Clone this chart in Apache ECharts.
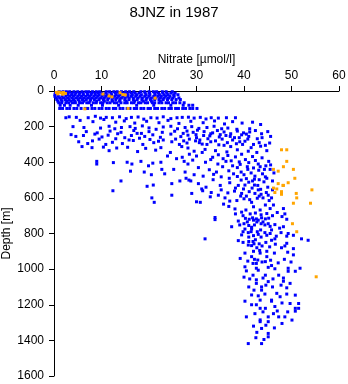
<!DOCTYPE html>
<html>
<head>
<meta charset="utf-8">
<script src="https://cdn.jsdelivr.net/npm/echarts@6/dist/echarts.min.js"></script>
<style>html,body{margin:0;padding:0;background:#fff}#c{width:348px;height:384px}</style>
</head>
<body>
<div id="c"></div>
<script>
// ---- data ----
const titleText = '8JNZ in 1987';
const xName = 'Nitrate [\u00b5mol/l]';
const yName = 'Depth [m]';

// dense near-surface sampling rows (depth in m) and their nitrate values
const surfaceRowDepth = [4, 12, 21, 30, 39, 48, 57, 66, 80, 98];
const surfaceRowNitrate = [
  [1.1,1.9,2.6,3.3,4.2,5.0,5.9,6.7,7.3,8.1,8.9,9.6,11.0,11.7,12.6,13.3,14.2,15.1,15.9,16.8,18.3,19.1,20.0,20.9,21.6,22.8,23.6,24.9],
  [0.3,3.0,3.8,4.6,5.4,6.1,7.0,7.9,8.6,9.3,10.1,10.9,12.0,12.9,13.7,14.6,15.4,16.3,17.1,17.9,19.2,20.1,21.2,22.0,22.9,23.8,24.6,25.5],
  [0.2,2.9,3.7,4.4,5.3,6.2,7.1,7.8,8.7,9.5,10.4,11.2,12.1,13.1,13.9,14.8,15.6,16.5,17.4,18.4,19.4,20.2,21.3,22.2,23.2,24.0,25.2,26.1],
  [0.2,0.9,1.7,2.5,3.3,4.1,5.0,5.8,6.7,7.5,8.4,9.2,10.1,10.9,11.9,12.8,13.6,14.5,15.5,16.3,17.2,18.1,19.1,20.0,21.0,21.9,22.6,23.5,24.4,25.3],
  [0.4,1.2,2.0,2.9,3.8,4.7,5.5,6.3,7.2,8.0,8.9,9.8,10.6,11.5,12.4,13.3,14.2,15.0,15.8,16.7,17.7,18.6,19.6,20.5,21.4,22.4,23.2,24.1,25.0,26.3],
  [0.6,1.5,2.4,3.2,4.1,5.1,6.0,6.8,7.7,8.5,9.5,10.4,11.3,12.2,13.0,13.9,14.9,15.8,16.7,17.5,18.5,19.4,20.3,21.2,22.1,23.0,23.9,24.8,25.7,26.6],
  [0.8,1.7,2.7,3.6,4.4,5.3,6.3,7.6,9.0,10.6,12.3,13.8,15.2,17.0,18.8,20.5,22.4],
  [1.0,1.6,2.5,3.1,3.9,4.5,5.4,6.0,6.9,7.4,8.3,8.9,9.8,10.3,11.2,11.8,12.7,13.2,14.1,14.9,15.4,16.3,16.8,17.8,18.3,19.2,19.7,20.7,21.2,22.1,22.7,23.6,24.1,25.0,25.6,26.5,27.4],
  [1.3,2.2,3.4,5.1,7.9,10.2,13.6,17.4,21.0,24.6,27.2,28.4,29.2],
  [1.2,1.8,2.7,3.3,4.2,4.8,5.7,6.6,7.1,8.0,8.6,9.5,10.1,11.0,11.6,12.5,13.0,13.9,14.5,15.4,16.0,16.9,17.4,18.3,18.9,19.8,20.3,21.2,21.8,22.7,23.3,24.2,24.7,25.6,26.2,27.1,27.7,28.6,29.2,30.1]
];

// scattered blue samples [nitrate, depth] by depth band
const blueUpper = [
  [2.5,150],[3.2,145],[4.7,148],[7.2,150],[8.7,142],[9.8,152],[11.0,148],[12.3,150],[13.8,145],[15.2,155],[16.3,148],[17.7,146],[18.9,158],[20.4,150],[21.7,152],[23.0,145],[24.6,155],[25.9,150],[27.0,148],[28.3,147],[29.5,152],[30.8,148],[32.0,157],[33.1,150],[34.6,152],[36.3,150],[38.2,150],
  [4.0,200],[6.3,205],[9.8,208],[11.6,198],[12.8,212],[14.2,205],[16.0,200],[17.1,210],[18.6,196],[20.0,207],[21.5,215],[23.0,202],[24.6,198],[26.0,212],[27.6,205],[29.0,200],[30.5,210],[32.2,205],[33.7,198],[35.3,212],[36.6,208],[38.5,215],[41.2,212],
  [3.6,245],[4.6,255],[6.2,250],[8.6,242],[10.1,258],[11.4,248],[13.4,240],[14.9,262],[16.3,250],[17.5,238],[19.1,255],[20.8,246],[22.4,260],[24.6,242],[26.7,256],[28.2,248],[30.0,262],[31.5,250],[33.0,240],[34.8,258],[36.2,250],[38.0,262],[39.5,246],[41.0,255],[42.8,268],
  [5.2,285],[7.1,295],[8.1,280],[10.9,300],[12.3,288],[14.4,295],[16.7,278],[18.7,300],[21.0,290],[23.0,275],[24.8,285],[26.4,300],[28.0,292],[29.8,280],[31.2,298],[33.0,285],[34.7,302],[36.5,290],[38.4,296],[40.2,282],[42.0,300],
  [5.9,312],[8.0,318],[10.4,315],[13.2,320],[15.5,316],[19.3,322],[22.5,318],[26.9,312],[28.2,320],
  [28.0,225],[29.3,232],[30.2,220],[31.6,228],[33.4,235],[34.4,222],[35.8,230],[37.2,240],[38.6,225],[39.9,235],[41.2,230],[42.4,222],[43.7,240],[45.0,228],
  [28.5,270],[30.7,275],[32.4,268],[34.0,280],[35.4,270],[37.6,275],[39.1,285],[40.8,270],[43.2,290],[44.5,305]
];
const blueUpper2 = [
  [5.5,165],[8.2,172],[10.5,160],[13.0,175],[14.8,168],[17.0,180],[19.5,170],[22.1,178],[24.0,165],[26.3,182],[28.8,170],[31.4,178],[33.8,168],[35.9,185],[37.6,172],[39.6,180],[41.8,175],[43.5,188],
  [6.8,228],[9.1,235],[11.8,225],[14.1,232],[16.8,222],[18.4,238],[20.0,228],[22.8,232],[25.4,226],[27.2,238],[29.9,245],[32.8,252],[35.0,245],[37.1,255],[39.0,262],[40.5,242],[43.8,262],[45.6,255],
  [9.5,270],[13.0,268],[15.8,275],[18.0,265],[20.2,272],[22.0,282],[25.6,270],[27.3,280],[30.6,290],[32.2,300],[35.8,305],[37.2,312],[39.7,300],[41.5,318],[43.5,310],[45.4,292],
  [11.6,335],[17.6,340],[21.4,332],[24.5,345],[29.5,338],[31.8,328],[34.0,335],[36.4,342],[38.6,330],[40.9,338],[42.7,345],[44.8,335]
];
const blueMid = [
  [9.0,395],[9.0,410],[12.5,402],[15.4,400],[16.4,410],[18.3,395],[19.9,420],[20.8,405],[22.5,400],[27.4,395],[28.2,410],
  [16.1,450],[19.0,455],[20.5,470],[22.7,440],[23.3,465],
  [12.4,560],[14.1,505],[19.6,535],[20.9,528],[24.8,520],[26.5,505],[27.8,490],[28.4,500],
  [20.6,600],[21.1,625],[24.8,585],[30.8,625],
  [28.5,355],[30.0,365],[31.2,345],[33.4,372],[34.6,358],[35.6,380],[36.6,362],[37.3,392],[38.2,370],[39.0,398],[39.5,355],[40.3,385],[41.0,402],[41.8,368],[42.4,390],[43.0,410],[43.8,375],[44.6,420],[45.2,395],
  [30.4,430],[32.7,442],[34.2,455],[35.5,425],[36.8,448],[37.8,465],[38.6,430],[39.4,455],[40.0,470],[40.8,440],[41.5,460],[42.3,478],[43.1,445],[43.9,465],[44.5,482],[45.5,440],[46.3,460],
  [28.8,505],[30.4,520],[32.0,540],[33.5,498],[35.0,530],[37.0,515],[38.2,545],[39.4,500],[40.2,528],[41.0,512],[41.7,545],[42.2,495],[42.9,530],[43.5,552],[44.2,510],[45.0,540]
];
const blueMid2 = [
  [23.9,365],[25.8,380],[27.0,372],[29.2,388],[31.9,400],[33.0,385],[34.5,410],[36.2,395],[37.6,420],[39.2,412],[40.7,425],[42.0,432],[43.4,425],[44.3,440],[45.6,415],
  [25.2,440],[27.6,455],[29.5,470],[31.4,478],[33.6,468],[35.2,482],[36.9,490],[38.6,480],[40.5,492],[41.8,505],[43.2,498],[44.8,490],[46.0,505],
  [31.3,560],[33.1,570],[35.2,555],[36.6,572],[38.0,562],[39.3,590],[40.0,605],[41.1,565],[42.3,575],[43.2,590],[44.0,600],[44.7,570],[45.3,615],[46.0,555],[38.5,615],[35.7,635],[29.0,575]
];
const blueDeep = [
  [31.1,550],[34.6,585],[30.0,622],[32.9,594],[36.0,600],[37.0,618],[38.8,530],[39.9,550],[39.5,575],[40.5,590],[41.2,610],[41.6,625],
  [42.2,528],[43.0,555],[43.6,580],[42.8,602],[45.1,585],[45.8,600],[44.5,640],[45.5,660],[46.2,640],[36.8,648],[38.1,662],[42.0,650],[43.4,668],
  [48.0,705],[39.8,700],[42.0,725],[42.7,735],[33.9,710],[33.9,722],[37.4,762],[39.8,790],[41.6,765],[41.6,775],[39.5,808],
  [40.9,795],[42.0,812],[43.0,805],[43.6,820],[42.4,835],[45.8,780],[48.3,762],[46.5,830],[49.0,815],[49.3,800],[50.4,810],[52.1,830],[53.5,838],
  [31.8,830],[38.8,840],[41.6,868],[42.7,880],[43.3,895],[45.8,838],[49.0,855],[50.4,885],[40.9,865],[40.2,910],[43.4,910],
  [40.3,715],[41.1,720],[41.8,712],[42.6,718],[43.7,712],[44.5,718],[45.2,714],[40.7,735],[42.2,752],[43.6,745],[44.4,752],[45.1,745],[39.1,752],[41.5,790],[43.5,780],[44.4,795],[41.9,845],[43.2,858],[48.3,660],[48.6,690],[49.0,720]
];
const blueDeep2 = [
  [38.2,690],[39.5,680],[40.4,668],[41.3,690],[42.4,685],[43.6,695],[44.8,688],[46.0,700],[47.0,682],
  [38.8,730],[40.0,745],[41.0,755],[43.0,725],[44.0,735],[45.5,760],[46.5,750],[47.5,770],
  [40.2,775],[41.0,820],[42.8,790],[44.8,810],[45.5,800],[46.8,815],[47.8,795],
  [39.8,850],[41.0,845],[42.1,858],[43.8,870],[44.6,850],[45.4,875],[46.6,860],[47.9,880],[48.6,870],[42.0,900],[44.8,900],[46.4,910],[49.2,905]
];
const blueBottom = [
  [39.2,940],[41.6,930],[44.8,930],[44.5,958],[42.6,968],[40.2,987],[40.5,1010],[41.9,1034],[42.6,995],[43.0,1006],[44.5,1034],[45.1,990],[45.8,980],[46.5,998],[47.3,1034],[48.3,1050],[48.3,1068],
  [49.3,995],[49.3,1012],[50.4,920],[50.8,1012],[51.8,995],[42.6,1060],[42.6,1080],[43.7,1100],[43.7,1118],[45.1,1070],[46.9,1136],[45.8,1174],[45.8,1180],[43.4,1174],[42.1,1118],
  [40.2,1180],[41.6,1200],[42.6,1200],[43.4,1220],[44.5,1220],[46.2,1250],[45.1,1268],[47.3,1268],[48.6,1268],[40.5,1268],[43.4,1285],[43.4,1295],[45.1,1295],[48.0,1305],[50.1,1286],
  [49.7,1193],[50.8,1220],[50.8,1236],[51.5,1220],[51.5,1193],[50.8,1146],[49.7,1080],[43.7,1333],[45.1,1361],[45.1,1380],[40.9,1418],[43.7,1418],[41.9,968],[42.9,949]
];
const blueBottom2 = [
  [40.8,955],[42.2,945],[43.8,960],[45.6,950],[47.2,965],[48.5,945],[49.9,960],
  [40.0,1045],[41.2,1055],[44.0,1050],[46.1,1055],[47.8,1090],[49.0,1105],[46.0,1100],[44.6,1090],[41.0,1100],
  [41.6,1145],[43.0,1150],[44.4,1140],[47.6,1155],[49.0,1140],[48.0,1190],[46.5,1210],[44.0,1240],[42.3,1250],[47.0,1235],[49.2,1240],
  [42.0,1320],[44.6,1315],[46.4,1330],[42.7,1355],[44.2,1395],[42.5,1385]
];
const orangeSamples = [
  [0.5,8],[1.0,6],[1.5,10],[2.0,8],[0.8,16],[1.8,18],[2.4,14],[10.3,17],[11.6,28],[12.2,33],[13.9,10],[14.5,20],[15.0,22],[21.3,40],[6.5,100],[15.6,98],
  [47.9,330],[49.0,330],[49.0,395],[48.3,425],[46.2,440],[47.2,450],[50.4,440],[50.7,490],[47.2,520],[48.3,530],[49.3,515],[46.9,550],[47.9,565],[54.3,555],
  [46.5,570],[51.0,575],[51.1,600],[47.9,580],[50.4,630],[54.0,630],[50.2,745],[51.1,790],[55.2,1043],[46.2,545],[48.2,530]
];

// ---- build ----
const surfaceBlue = [];
surfaceRowDepth.forEach((d, i) => surfaceRowNitrate[i].forEach(n => surfaceBlue.push([n, d])));
const blueAll = surfaceBlue.concat(blueUpper, blueUpper2, blueMid, blueMid2, blueDeep, blueDeep2, blueBottom, blueBottom2);

const font = 'Liberation Sans, Arial, Helvetica, sans-serif';
const chart = echarts.init(document.getElementById('c'), null, {renderer: 'canvas'});
chart.setOption({
  animation: false,
  backgroundColor: '#fff',
  title: {text: titleText, left: 'center', top: 0, textStyle: {fontFamily: font, fontSize: 15, fontWeight: 'normal', color: '#000'}},
  grid: {left: 54, top: 91, width: 285, height: 285, outerBoundsMode: 'none', containLabel: false},
  xAxis: {
    type: 'value', position: 'top', min: 0, max: 60, interval: 10,
    name: xName, nameLocation: 'middle', nameGap: 25, nameMoveOverlap: false,
    nameTextStyle: {fontFamily: font, fontSize: 12, color: '#000'},
    axisLine: {show: true, onZero: false, lineStyle: {color: '#000', width: 1}},
    axisTick: {show: true, inside: false, length: 5, lineStyle: {color: '#000'}},
    axisLabel: {fontFamily: font, fontSize: 12, color: '#000', margin: 9, formatter: v => String(v)},
    splitLine: {show: false}
  },
  yAxis: {
    type: 'value', inverse: true, min: 0, max: 1600, interval: 200,
    name: yName, nameLocation: 'middle', nameGap: 41, nameMoveOverlap: false,
    nameTextStyle: {fontFamily: font, fontSize: 12, color: '#000'},
    axisLine: {show: true, onZero: false, lineStyle: {color: '#000', width: 1}},
    axisTick: {show: true, inside: false, length: 5, lineStyle: {color: '#000'}},
    axisLabel: {fontFamily: font, fontSize: 12, color: '#000', margin: 10, formatter: v => String(v)},
    splitLine: {show: false}
  },
  series: [
    {type: 'scatter', data: blueAll, symbol: 'rect', symbolSize: 3, itemStyle: {color: '#0000ff', opacity: 1}, silent: true},
    {type: 'scatter', data: orangeSamples, symbol: 'rect', symbolSize: 3, itemStyle: {color: '#ffa500', opacity: 1}, silent: true}
  ]
});
</script>
</body>
</html>
